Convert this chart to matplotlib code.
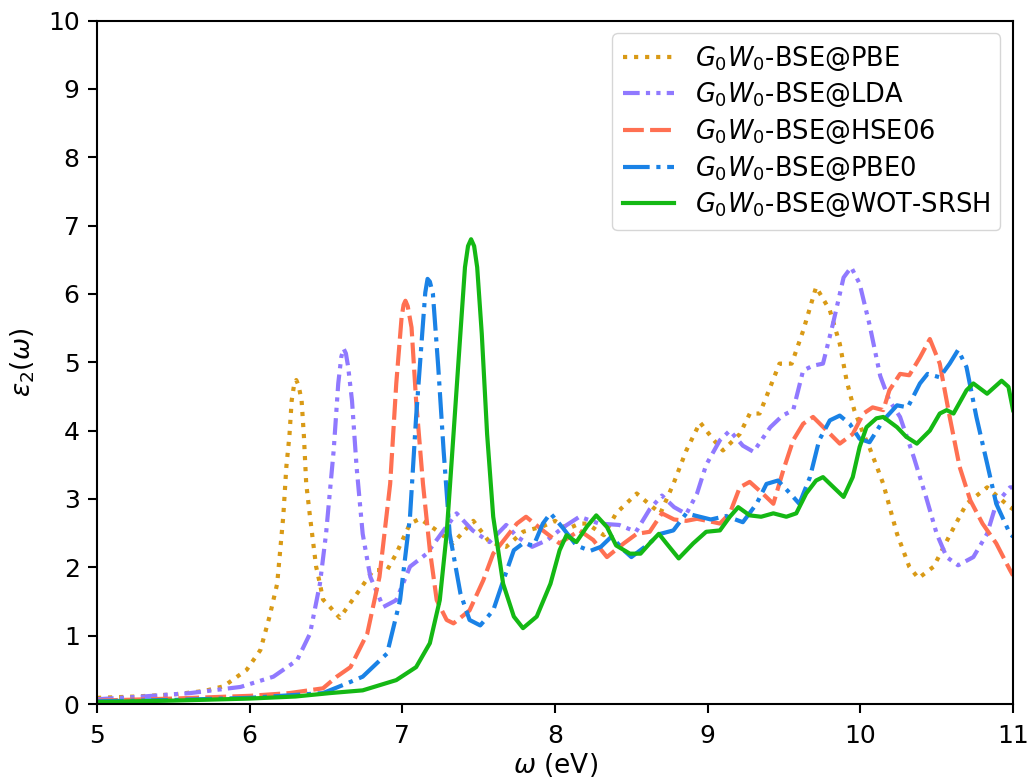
import matplotlib
matplotlib.use("Agg")
import matplotlib.pyplot as plt

# values (omega in eV, eps2)
pbe_x = [5.0, 5.25, 5.5, 5.7, 5.83, 5.98, 6.07, 6.13, 6.18, 6.22, 6.24, 6.26, 6.275, 6.29,
         6.305, 6.32, 6.34, 6.355, 6.37, 6.395, 6.435, 6.46, 6.48, 6.526, 6.59, 6.72, 6.81,
         6.90, 6.96, 7.05, 7.115, 7.225, 7.33, 7.465, 7.57, 7.68, 7.79, 7.92, 8.0, 8.08,
         8.16, 8.21, 8.32, 8.40, 8.535, 8.64, 8.69, 8.775, 8.86, 8.95, 9.04, 9.10, 9.21,
         9.276, 9.34, 9.41, 9.47, 9.55, 9.625, 9.71, 9.80, 9.865, 9.91, 9.96, 10.02, 10.06,
         10.12, 10.15, 10.24, 10.32, 10.38, 10.48, 10.59, 10.695, 10.83, 10.98, 11.0]
pbe_y = [0.09, 0.11, 0.14, 0.19, 0.26, 0.50, 0.79, 1.28, 1.76, 2.75, 3.47, 3.92, 4.44, 4.66,
         4.74, 4.66, 4.44, 3.92, 3.23, 2.74, 2.01, 1.76, 1.53, 1.42, 1.26, 1.67, 1.96,
         1.96, 2.20, 2.64, 2.71, 2.54, 2.35, 2.68, 2.37, 2.30, 2.52, 2.60, 2.68, 2.56,
         2.64, 2.64, 2.47, 2.79, 3.08, 2.88, 2.79, 3.22, 3.71, 4.12, 3.86, 3.71, 3.95,
         4.25, 4.25, 4.64, 4.98, 4.98, 5.46, 6.10, 5.76, 5.27, 4.73, 4.30, 3.95, 3.75,
         3.40, 3.22, 2.49, 2.01, 1.84, 2.01, 2.49, 2.93, 3.17, 2.88, 2.85]

lda_x = [5.0, 5.3, 5.61, 5.94, 6.155, 6.31, 6.395, 6.46, 6.50, 6.55, 6.58, 6.60, 6.615,
         6.63, 6.645, 6.67, 6.70, 6.74, 6.79, 6.875, 6.96, 7.05, 7.16, 7.27, 7.355, 7.46,
         7.57, 7.68, 7.75, 7.85, 7.95, 8.05, 8.16, 8.29, 8.42, 8.53, 8.62, 8.70, 8.78,
         8.86, 8.93, 8.99, 9.08, 9.145, 9.23, 9.30, 9.41, 9.49, 9.56, 9.625, 9.69, 9.755,
         9.82, 9.89, 9.94, 9.995, 10.06, 10.13, 10.19, 10.26, 10.35, 10.43, 10.50, 10.565,
         10.64, 10.74, 10.83, 10.89, 10.98, 11.0]
lda_y = [0.07, 0.11, 0.16, 0.25, 0.40, 0.64, 1.03, 1.76, 2.49, 3.71, 4.69, 5.08, 5.20,
         5.13, 4.93, 4.44, 3.47, 2.49, 1.86, 1.42, 1.52, 2.01, 2.20, 2.54, 2.79, 2.54,
         2.37, 2.62, 2.45, 2.30, 2.40, 2.58, 2.74, 2.64, 2.62, 2.52, 2.85, 3.05, 2.88,
         2.78, 3.08, 3.50, 3.86, 4.00, 3.78, 3.69, 4.05, 4.22, 4.30, 4.88, 4.95, 4.98,
         5.56, 6.24, 6.39, 6.15, 5.55, 4.80, 4.44, 4.20, 3.61, 3.03, 2.49, 2.15,
         2.03, 2.15, 2.49, 2.93, 3.17, 3.17]

hse_x = [5.0, 5.5, 6.0, 6.26, 6.48, 6.57, 6.66, 6.77, 6.85, 6.92, 6.96, 6.995, 7.008, 7.02,
         7.035, 7.06, 7.09, 7.135, 7.18, 7.225, 7.29, 7.335, 7.44, 7.53, 7.595, 7.68, 7.75,
         7.81, 7.92, 8.03, 8.16, 8.25, 8.34, 8.45, 8.535, 8.62, 8.70, 8.78, 8.86, 8.93,
         9.04, 9.08, 9.145, 9.21, 9.275, 9.36, 9.43, 9.495, 9.56, 9.625, 9.69, 9.78, 9.865,
         9.95, 10.02, 10.08, 10.15, 10.19, 10.26, 10.32, 10.39, 10.455, 10.52, 10.585,
         10.65, 10.72, 10.80, 10.89, 10.98, 11.0]
hse_y = [0.05, 0.08, 0.12, 0.16, 0.23, 0.40, 0.54, 1.03, 1.86, 3.22, 4.69, 5.66, 5.84, 5.90,
         5.82, 5.51, 4.44, 3.22, 2.25, 1.52, 1.23, 1.18, 1.37, 1.81, 2.20, 2.44, 2.64,
         2.74, 2.54, 2.35, 2.54, 2.40, 2.15, 2.35, 2.49, 2.52, 2.79, 2.70, 2.68, 2.71,
         2.66, 2.64, 2.79, 3.17, 3.25, 3.08, 2.93, 3.42, 3.86, 4.10, 4.20, 4.00, 3.81,
         3.95, 4.25, 4.34, 4.30, 4.59, 4.83, 4.81, 5.07, 5.34, 4.98, 4.20,
         3.47, 2.98, 2.64, 2.35, 1.96, 1.88]

pbe0_x = [5.0, 5.5, 6.0, 6.48, 6.635, 6.74, 6.90, 6.985, 7.05, 7.09, 7.13, 7.15, 7.165,
          7.18, 7.20, 7.235, 7.27, 7.31, 7.38, 7.44, 7.51, 7.595, 7.66, 7.73, 7.79, 7.86,
          7.92, 7.97, 8.05, 8.14, 8.23, 8.30, 8.37, 8.45, 8.50, 8.60, 8.69, 8.775, 8.86,
          8.93, 9.02, 9.12, 9.23, 9.32, 9.385, 9.46, 9.54, 9.60, 9.67, 9.73, 9.80, 9.865,
          9.93, 9.995, 10.06, 10.15, 10.24, 10.31, 10.39, 10.44, 10.52, 10.585, 10.64,
          10.695, 10.76, 10.83, 10.89, 10.98, 11.0]
pbe0_y = [0.04, 0.06, 0.09, 0.16, 0.30, 0.40, 0.74, 1.52, 2.74, 4.20, 5.42, 6.02, 6.22,
          6.18, 6.00, 4.93, 3.71, 2.49, 1.62, 1.23, 1.15, 1.37, 1.80, 2.25, 2.35, 2.32,
          2.64, 2.79, 2.58, 2.32, 2.24, 2.30, 2.45, 2.25, 2.15, 2.32, 2.49, 2.54, 2.79,
          2.75, 2.70, 2.75, 2.66, 2.93, 3.22, 3.27, 3.08, 2.93, 3.32, 3.86, 4.15, 4.22,
          4.10, 3.88, 3.83, 4.15, 4.37, 4.34, 4.69, 4.83, 4.78, 4.98, 5.18,
          4.93, 4.20, 3.52, 2.93, 2.49, 2.45]

wot_x = [5.0, 5.5, 6.0, 6.3, 6.526, 6.74, 6.96, 7.09, 7.18, 7.245, 7.29, 7.335, 7.38, 7.41,
         7.43, 7.45, 7.47, 7.49, 7.52, 7.555, 7.595, 7.66, 7.73, 7.79, 7.88, 7.97, 8.03,
         8.075, 8.14, 8.21, 8.27, 8.34, 8.40, 8.49, 8.56, 8.62, 8.68, 8.73, 8.81, 8.905,
         8.99, 9.08, 9.145, 9.20, 9.275, 9.35, 9.43, 9.515, 9.58, 9.645, 9.71, 9.755, 9.82,
         9.89, 9.95, 9.995, 10.04, 10.105, 10.15, 10.24, 10.30, 10.37, 10.455, 10.52,
         10.565, 10.61, 10.695, 10.74, 10.83, 10.925, 10.97, 11.0]
wot_y = [0.03, 0.05, 0.08, 0.11, 0.16, 0.20, 0.35, 0.54, 0.89, 1.52, 2.49, 3.95, 5.42, 6.39,
         6.70, 6.80, 6.70, 6.39, 5.42, 3.95, 2.74, 1.76, 1.28, 1.11, 1.28, 1.76, 2.25,
         2.47, 2.37, 2.60, 2.76, 2.59, 2.32, 2.20, 2.20, 2.35, 2.49, 2.35, 2.13, 2.35,
         2.52, 2.54, 2.74, 2.88, 2.76, 2.74, 2.79, 2.74, 2.79, 3.08, 3.27, 3.32, 3.18,
         3.03, 3.32, 3.76, 4.05, 4.18, 4.20, 4.05, 3.91, 3.81, 4.00, 4.25,
         4.30, 4.25, 4.59, 4.69, 4.54, 4.73, 4.64, 4.30]

labels = [r'$G_0W_0$-BSE@PBE', r'$G_0W_0$-BSE@LDA', r'$G_0W_0$-BSE@HSE06',
          r'$G_0W_0$-BSE@PBE0', r'$G_0W_0$-BSE@WOT-SRSH']

fig = plt.figure(figsize=(10.29, 7.8), dpi=100)
ax = fig.add_axes([0.0943, 0.0974, 0.8902, 0.8763])

lw = 3
ax.plot(pbe_x, pbe_y, color='#d99a16', lw=lw, linestyle=':', label=labels[0])
ax.plot(lda_x, lda_y, color='#9079ff', lw=lw, dashes=(4, 1.5, 1, 1.5, 1, 1.5), label=labels[1])
ax.plot(hse_x, hse_y, color='#ff7052', lw=lw, dashes=(5, 1.5), label=labels[2])
ax.plot(pbe0_x, pbe0_y, color='#1a82e6', lw=lw, linestyle='-.', label=labels[3])
ax.plot(wot_x, wot_y, color='#14b814', lw=lw, label=labels[4])

ax.set_xlim(5, 11)
ax.set_ylim(0, 10)
ax.set_xticks([5, 6, 7, 8, 9, 10, 11])
ax.set_yticks(range(0, 11))
ax.tick_params(labelsize=18, width=1.5, length=6.5)
ax.tick_params(axis='x', pad=8)
ax.tick_params(axis='y', pad=6)
for s in ax.spines.values():
    s.set_linewidth(1.5)
ax.set_xlabel(r'$\omega$ (eV)', fontsize=19, labelpad=2)
ax.set_ylabel(r'$\varepsilon_2(\omega)$', fontsize=19, labelpad=8)
ax.legend(loc='upper right', fontsize=18.5, handlelength=2.0, labelspacing=0.3)

fig.savefig('out.png', dpi=100)
